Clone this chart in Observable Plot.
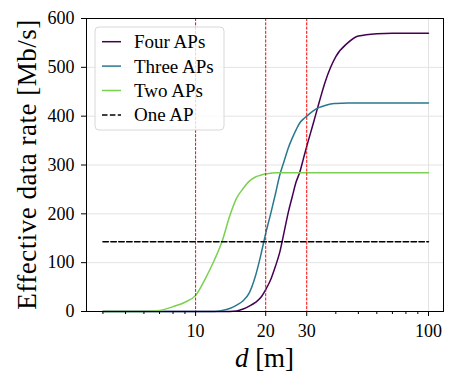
<!DOCTYPE html>
<html><head><meta charset="utf-8">
<script src="https://cdn.jsdelivr.net/npm/d3@7"></script>
<script src="https://cdn.jsdelivr.net/npm/@observablehq/plot@0.6"></script>
<style>
body{margin:0;background:#fff;}
#chart{position:relative;width:456px;height:386px;}
</style>
</head><body><div id="chart"></div>
<script>
const distances = [4,5,6,7,8,9,10,11,12,13,14,15,16,17,18,19,20,21,22,23,24,25,26,27,28,29,30,32,34,36,38,40,45,50,60,70,80,100];
const fourAPs  = [0,0,0,0,0,0,0,0,0,0,0,1,5,11,18,28,45,65,92,122,163,203,235,265,285,312,338,385,430,470,500,522,550,564,569,570,570,570];
const threeAPs = [0,0,0,0,0,0,0,0,0,2,6,13,22,38,70,113,160,200,240,280,308,335,355,372,386,394,400,411,418,422,425,426,427,427,427,427,427,427];
const twoAPs   = [0,0,0,2,10,19,33,67,104,144,195,232,252,267,275,279,282,283,284,284,284,284,284,284,284,284,284,284,284,284,284,284,284,284,284,284,284,284];
const oneAP    = [143,143,143,143,143,143,143,143,143,143,143,143,143,143,143,143,143,143,143,143,143,143,143,143,143,143,143,143,143,143,143,143,143,143,143,143,143,143];
const seriesNames = ["Four APs","Three APs","Two APs","One AP"];
const seriesColors = ["#440154","#2a788e","#7ad151","#000000"];
const markerDistances = [10,20,30];
const xTicks = [10,20,30,100];
const xGrid = [100];
const xMinorTicks = [4,5,6,7,8,9,40,50,60,70,80,90];
const yTicks = [0,100,200,300,400,500,600];
const xLabelVar = "d";
const xLabelUnit = " [m]";
const yLabel = "Effective data rate [Mb/s]";

const rows = [];
[fourAPs, threeAPs, twoAPs, oneAP].forEach((vals, i) =>
  vals.forEach((v, j) => rows.push({series: seriesNames[i], d: distances[j], rate: v})));

const font = "'Liberation Serif', 'Times New Roman', serif";
const chart = Plot.plot({
  width: 456, height: 386,
  marginTop: 18, marginRight: 13, marginBottom: 75, marginLeft: 86,
  style: {fontFamily: font, fontSize: "18px", color: "#000", background: "#fff"},
  x: {type: "log", domain: [3.4, 116]},
  y: {domain: [0, 600]},
  color: {domain: seriesNames, range: seriesColors},
  marks: [
    Plot.gridY(yTicks.slice(1, -1), {stroke: "#e3e3e3", strokeOpacity: 1}),
    Plot.gridX(xGrid, {stroke: "#e3e3e3", strokeOpacity: 1}),
    Plot.line(rows.filter(r => r.series !== "One AP"), {x: "d", y: "rate", stroke: "series", z: "series", strokeWidth: 1.5, curve: "monotone-x"}),
    Plot.line(rows.filter(r => r.series === "One AP"), {x: "d", y: "rate", stroke: "series", strokeWidth: 1.5, strokeDasharray: "5.5,2.4"}),
    Plot.ruleX(markerDistances, {stroke: "#ff0000", strokeWidth: 1, strokeDasharray: "3,1.3"}),
    Plot.frame({stroke: "#000", strokeWidth: 1}),
    Plot.axisY(yTicks, {tickSize: 5, tickPadding: 7, label: null, tickFormat: d => String(d)}),
    Plot.axisX(xTicks, {tickSize: 5, text: null, label: null}),
    Plot.text(xTicks, {x: d => d, frameAnchor: "bottom", text: d => String(d), lineAnchor: "top", dy: 13, fontSize: 18}),
    Plot.axisX(xMinorTicks, {tickSize: 3, text: null, label: null})
  ]
});
document.getElementById("chart").appendChild(chart);

const svg = d3.select(chart);
// axis labels
svg.append("text")
  .attr("transform", "translate(27,164.5) rotate(-90)")
  .attr("text-anchor", "middle").attr("dominant-baseline", "central")
  .style("font-family", font).style("font-size", "27px").style("letter-spacing", "0.5px")
  .attr("fill", "#000").text(yLabel);
const xl = svg.append("text")
  .attr("x", 264.5).attr("y", 367).attr("text-anchor", "middle")
  .style("font-family", font).style("font-size", "27px").attr("fill", "#000");
xl.append("tspan").style("font-style", "italic").text(xLabelVar);
xl.append("tspan").text(xLabelUnit);

// legend
const lg = svg.append("g");
lg.append("rect").attr("x", 95).attr("y", 27).attr("width", 129).attr("height", 103)
  .attr("rx", 4).attr("fill", "#fff").attr("fill-opacity", 0.8).attr("stroke", "#d8d8d8");
seriesNames.forEach((name, i) => {
  const y = 41.7 + i * 24.4;
  lg.append("line").attr("x1", 102).attr("x2", 121).attr("y1", y).attr("y2", y)
    .attr("stroke", seriesColors[i]).attr("stroke-width", 1.5)
    .attr("stroke-dasharray", name === "One AP" ? "5.5,2.4" : null);
  lg.append("text").attr("x", 134).attr("y", y).attr("text-anchor", "start").attr("dominant-baseline", "central")
    .style("font-family", font).style("font-size", "19px").attr("fill", "#000").text(name);
});
</script>
</body></html>
